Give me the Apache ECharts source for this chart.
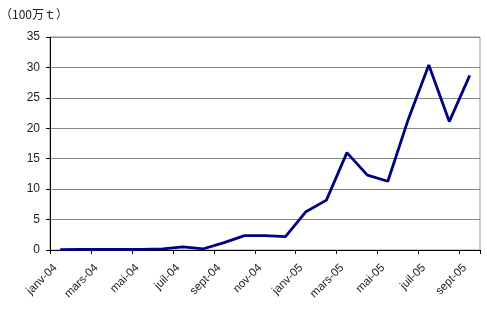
<!DOCTYPE html>
<html>
<head>
<meta charset="utf-8">
<script src="https://cdn.jsdelivr.net/npm/echarts@6/dist/echarts.min.js"></script>
<style>
  html, body { margin: 0; padding: 0; background: #fff; }
  #main { width: 487px; height: 332px; }
</style>
</head>
<body>
<div id="main"></div>
<script>
// mois, janv-04 .. sept-05
var months = ['janv-04', 'févr-04', 'mars-04', 'avr-04', 'mai-04', 'juin-04', 'juil-04',
  'août-04', 'sept-04', 'oct-04', 'nov-04', 'déc-04', 'janv-05', 'févr-05', 'mars-05',
  'avr-05', 'mai-05', 'juin-05', 'juil-05', 'août-05', 'sept-05'];
// valeurs en 100万t
var values = [0.05, 0.1, 0.1, 0.1, 0.1, 0.2, 0.5, 0.2, 1.2, 2.35, 2.35, 2.2, 6.3, 8.2, 16.0,
  12.3, 11.3, 21.5, 30.4, 21.1, 28.7];
var unitLabel = '（100万ｔ）';

var myChart = echarts.init(document.getElementById('main'));
var option = {
  animation: false,
  textStyle: { fontFamily: 'Liberation Sans, Arial, sans-serif' },
  graphic: [{
    type: 'text', left: 0, top: 8,
    style: { text: unitLabel, fontSize: 12, fill: '#222', fontFamily: 'Noto Sans CJK JP' }
  }],
  grid: {
    left: 50, right: 7, top: 37, bottom: 82,
    show: true, borderColor: '#999', borderWidth: 1
  },
  xAxis: {
    type: 'category',
    data: months,
    boundaryGap: true,
    axisLine: { lineStyle: { color: '#000', width: 1 } },
    axisTick: { show: true, interval: 1, length: 4, lineStyle: { color: '#000' } },
    axisLabel: {
      interval: 1, rotate: 45, fontSize: 11.5, color: '#222', margin: 11,
      padding: [0, 7, 0, 0]
    }
  },
  yAxis: {
    type: 'value',
    min: 0, max: 35, interval: 5,
    axisLine: { show: true, lineStyle: { color: '#000', width: 1 } },
    axisTick: { show: true, length: 4, lineStyle: { color: '#000' } },
    axisLabel: { fontSize: 12, color: '#222', margin: 10 },
    splitLine: { lineStyle: { color: '#888', width: 1 } }
  },
  series: [{
    type: 'line',
    data: values,
    symbol: 'none',
    lineStyle: { color: '#000080', width: 2.8 }
  }]
};
myChart.setOption(option);
</script>
</body>
</html>
